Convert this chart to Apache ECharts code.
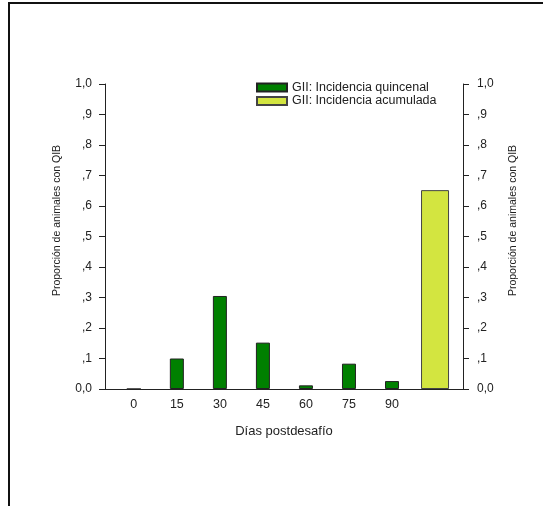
<!DOCTYPE html>
<html>
<head>
<meta charset="utf-8">
<script src="https://cdn.jsdelivr.net/npm/echarts@6/dist/echarts.min.js"></script>
<style>
  html, body { margin: 0; padding: 0; background: #fff; }
  #chart { width: 543px; height: 506px; }
</style>
</head>
<body>
<div id="chart"></div>
<script>
// dias postdesafio (ultimo hueco = incidencia acumulada)
const days = ['0', '15', '30', '45', '60', '75', '90', '']
const quincenal = [0, 0.10, 0.305, 0.152, 0.012, 0.083, 0.026]
const acumulada = 0.652
const yTicks = ['0,0', ',1', ',2', ',3', ',4', ',5', ',6', ',7', ',8', ',9', '1,0']

const font = 'Liberation Sans, Arial, sans-serif'
const axisColor = '#222'

const chart = echarts.init(document.getElementById('chart'))

const yAxisBase = {
  type: 'value',
  min: 0,
  max: 1,
  interval: 0.1,
  name: 'Proporción de animales con QIB',
  nameLocation: 'middle',
  nameRotate: 90,
  nameGap: 42,
  nameTextStyle: { fontFamily: font, fontSize: 10.5, color: '#222', padding: [0, 0, 0, 32] },
  axisLine: { show: true, onZero: false, lineStyle: { color: axisColor, width: 1 } },
  axisTick: { show: true, inside: false, length: 6, lineStyle: { color: axisColor } },
  axisLabel: {
    fontFamily: font, fontSize: 12, color: '#222', margin: 13,
    formatter: v => yTicks[Math.round(v * 10)]
  },
  splitLine: { show: false }
}

const xAxisBase = {
  type: 'value',
  min: -0.67,
  max: 7.65,
  axisLine: { show: true, onZero: false, lineStyle: { color: axisColor, width: 1 } },
  axisTick: { show: false },
  splitLine: { show: false }
}

const option = {
  backgroundColor: '#fff',
  animation: false,
  grid: { left: 105, right: 80, top: 84, bottom: 117, containLabel: false },
  legend: {
    orient: 'vertical',
    left: 256,
    top: 81,
    padding: 0,
    icon: 'rect',
    itemWidth: 30,
    itemHeight: 8,
    itemGap: 0.5,
    textStyle: { fontFamily: font, fontSize: 12.5, color: '#222', lineHeight: 10 },
    data: ['GII: Incidencia quincenal', 'GII: Incidencia acumulada']
  },
  xAxis: [
    Object.assign({}, xAxisBase, {
      name: 'Días postdesafío',
      nameLocation: 'middle',
      nameGap: 36,
      nameTextStyle: { fontFamily: font, fontSize: 13, color: '#222' },
      axisLabel: {
        fontFamily: font, fontSize: 12.5, color: '#222', margin: 9,
        customValues: days.map((d, i) => i),
        formatter: v => days[Math.round(v)]
      }
    }),
    Object.assign({}, xAxisBase, { show: false })
  ],
  yAxis: [
    Object.assign({}, yAxisBase, { position: 'left' }),
    Object.assign({}, yAxisBase, {
      position: 'right',
      nameGap: 45,
      axisLabel: Object.assign({}, yAxisBase.axisLabel, { margin: 14 })
    })
  ],
  series: [
    {
      name: 'GII: Incidencia quincenal',
      type: 'bar',
      xAxisIndex: 0,
      yAxisIndex: 0,
      barWidth: 14,
      itemStyle: { color: '#008000', borderColor: '#222', borderWidth: 1 },
      data: quincenal.map((v, i) => [i, v])
    },
    {
      name: 'GII: Incidencia acumulada',
      type: 'bar',
      xAxisIndex: 1,
      yAxisIndex: 0,
      barWidth: 28,
      itemStyle: { color: '#d3e540', borderColor: '#444', borderWidth: 1 },
      data: [[days.length - 1, acumulada]]
    }
  ],
  graphic: [
    { type: 'line', shape: { x1: 8, y1: 3, x2: 543, y2: 3 }, style: { stroke: '#111', lineWidth: 2 } },
    { type: 'line', shape: { x1: 9, y1: 3, x2: 9, y2: 506 }, style: { stroke: '#111', lineWidth: 2 } }
  ]
}

chart.setOption(option)
</script>
</body>
</html>
